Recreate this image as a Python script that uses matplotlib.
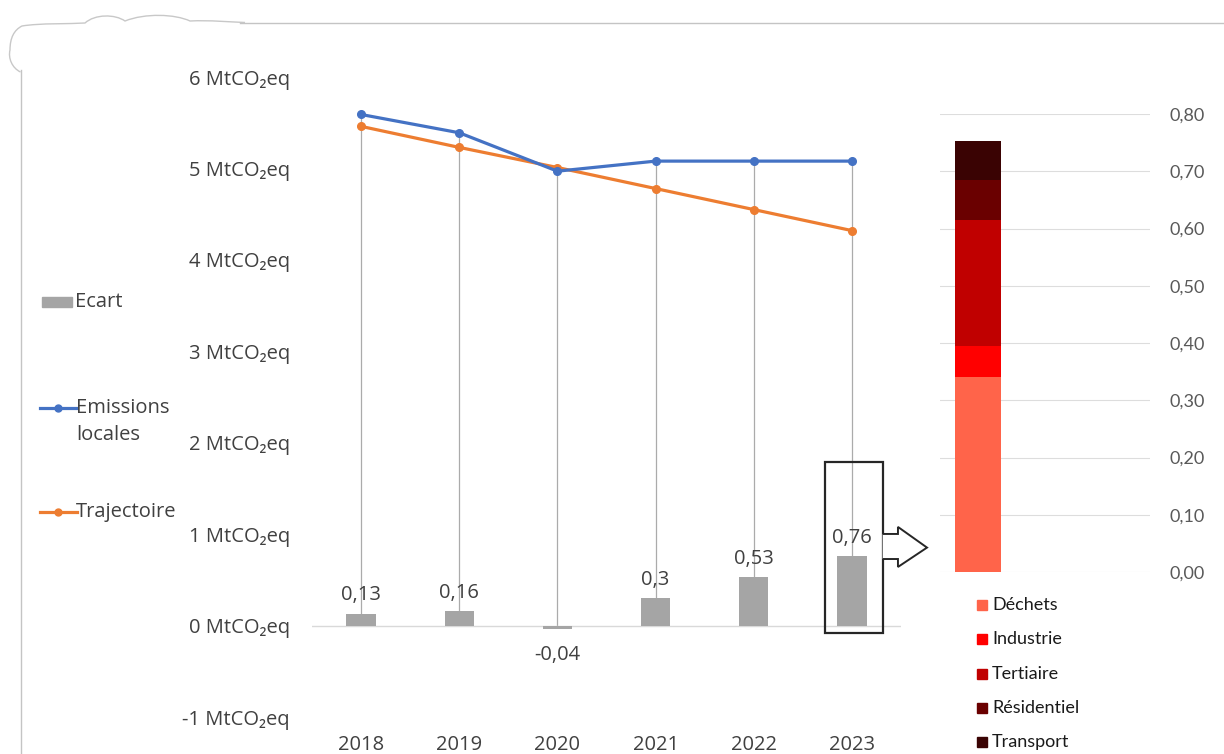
import matplotlib
matplotlib.use("Agg")
import matplotlib.pyplot as plt
from matplotlib.patches import Rectangle, Polygon, PathPatch
from matplotlib.path import Path
from matplotlib.lines import Line2D

# ---- data -------------------------------------------------------------
years = ["2018", "2019", "2020", "2021", "2022", "2023"]
emissions = [5.59, 5.39, 4.97, 5.08, 5.08, 5.08]      # Emissions locales
trajectoire = [5.46, 5.23, 5.01, 4.78, 4.55, 4.32]    # Trajectoire
ecart = [0.13, 0.16, -0.04, 0.30, 0.53, 0.76]         # Ecart
ecart_labels = ["0,13", "0,16", "-0,04", "0,3", "0,53", "0,76"]
y_ticks = [-1, 0, 1, 2, 3, 4, 5, 6]

sectors = ["Déchets", "Industrie", "Tertiaire", "Résidentiel", "Transport"]
sector_values = [0.34, 0.055, 0.22, 0.07, 0.067]
sector_colors = ["#FF644A", "#FF0000", "#C00000", "#6A0000", "#3A0303"]
right_ticks = [0.0, 0.1, 0.2, 0.3, 0.4, 0.5, 0.6, 0.7, 0.8]

# ---- style ------------------------------------------------------------
MAIN_FONT = ["Open Sans", "DejaVu Sans"]
SIDE_FONT = ["Lato", "DejaVu Sans"]
FS = 14.5
TXT = "#404040"
BLUE = "#4472C4"
ORANGE = "#ED7D31"
GREY = "#A5A5A5"

W, H = 1224, 754
fig = plt.figure(figsize=(W / 100, H / 100), dpi=100)
fig.patch.set_facecolor("white")


def fx(px):
    return px / W


def fy(py):
    return 1 - py / H


# ---- background frame --------------------------------------------------
bg = fig.add_axes([0, 0, 1, 1], zorder=-5)
bg.set_xlim(0, W)
bg.set_ylim(H, 0)
bg.axis("off")
bg.plot([240, W], [22.5, 22.5], color="#c4c4c4", lw=1)
bg.plot([20.5, 20.5], [70, H], color="#c4c4c4", lw=1)
blob = Path(
    [(20.5, 72), (12, 68), (8, 58), (10, 50),
     (10, 38), (14, 30), (22, 26),
     (40, 23), (70, 24), (85, 23),
     (95, 14), (115, 14), (125, 21),
     (145, 13), (175, 14), (190, 21),
     (210, 20), (230, 22), (245, 22.5)],
    [Path.MOVETO] + [Path.CURVE4] * 18,
)
bg.add_patch(PathPatch(blob, facecolor="white", edgecolor="#c8c8c8", lw=1))

# ---- main chart --------------------------------------------------------
ax = fig.add_axes([fx(312), fy(717), fx(901) - fx(312), fy(77) - fy(717)])
x = list(range(len(years)))

ax.set_xlim(-0.5, len(years) - 0.5)
ax.set_ylim(-1, 6)
for s in ax.spines.values():
    s.set_visible(False)

# drop lines from the highest point of each year to the axis
tops = [max(e, t) for e, t in zip(emissions, trajectoire)]
ax.vlines(x, 0, tops, color="#ABABAB", lw=0.9, zorder=1)
ax.axhline(0, color="#D9D9D9", lw=1, zorder=1.5)

ax.bar(x, ecart, width=0.3, color=GREY, zorder=2)
ax.plot(x, emissions, color=BLUE, lw=2.3, marker="o", ms=5.5, zorder=4)
ax.plot(x, trajectoire, color=ORANGE, lw=2.3, marker="o", ms=5.5, zorder=3)

for xi, v, lab in zip(x, ecart, ecart_labels):
    if v >= 0:
        ax.annotate(lab, (xi, v), xytext=(0, 6), textcoords="offset points",
                    ha="center", va="bottom", fontsize=FS, color=TXT,
                    family=MAIN_FONT, zorder=5)
    else:
        ax.annotate(lab, (xi, v), xytext=(0, -11), textcoords="offset points",
                    ha="center", va="top", fontsize=FS, color=TXT,
                    family=MAIN_FONT, zorder=5)

ax.set_xticks(x)
ax.set_xticklabels(years)
ax.set_yticks(y_ticks)
ax.set_yticklabels([f"{v} MtCO\u2082eq" for v in y_ticks])
ax.tick_params(axis="both", length=0, colors=TXT, labelsize=FS)
ax.tick_params(axis="y", pad=16)
ax.tick_params(axis="x", pad=13)
for t in ax.get_xticklabels() + ax.get_yticklabels():
    t.set_family(MAIN_FONT)

# highlight box around the last year and block arrow towards the breakdown
last = len(years) - 1
ax.add_patch(Rectangle((last - 0.274, -0.084), 0.587, 1.878, fill=False,
                       edgecolor="#262626", lw=1.6, zorder=6, clip_on=False))
arrow = [(last + 0.313, 1.002), (last + 0.469, 1.002), (last + 0.469, 1.079),
         (last + 0.765, 0.853), (last + 0.469, 0.641), (last + 0.469, 0.728),
         (last + 0.313, 0.728)]
ax.add_patch(Polygon(arrow, closed=False, facecolor="white",
                     edgecolor="#262626", lw=1.4, zorder=6, clip_on=False))

# ---- left legend -------------------------------------------------------
bg.add_patch(Rectangle((42, 297), 30, 10, color=GREY))
bg.text(75, 302, "Ecart", va="center", ha="left", fontsize=FS,
        color=TXT, family=MAIN_FONT)
bg.add_line(Line2D([40, 58, 77], [408, 408, 408], color=BLUE, lw=2.3,
                   marker="o", ms=5, markevery=[1]))
bg.text(76, 408, "Emissions", va="center", ha="left", fontsize=FS,
        color=TXT, family=MAIN_FONT)
bg.text(76, 435, "locales", va="center", ha="left", fontsize=FS,
        color=TXT, family=MAIN_FONT)
bg.add_line(Line2D([40, 58, 77], [512, 512, 512], color=ORANGE, lw=2.3,
                   marker="o", ms=5, markevery=[1]))
bg.text(76, 512, "Trajectoire", va="center", ha="left", fontsize=FS,
        color=TXT, family=MAIN_FONT)

# ---- breakdown of the last gap ------------------------------------------
ax2 = fig.add_axes([fx(940), fy(572), fx(1150) - fx(940), fy(114) - fy(572)])
ax2.set_xlim(0, 1)
ax2.set_ylim(0, 0.8)
for s in ax2.spines.values():
    s.set_visible(False)
ax2.set_yticks(right_ticks)
ax2.set_yticklabels([f"{v:.2f}".replace(".", ",") for v in right_ticks])
ax2.yaxis.tick_right()
ax2.tick_params(axis="y", length=0, colors="#595959", labelsize=13, pad=14)
for t in ax2.get_yticklabels():
    t.set_family(SIDE_FONT)
ax2.set_xticks([])
ax2.grid(axis="y", color="#DDDDDD", lw=0.8)
ax2.set_axisbelow(True)

bottom = 0.0
for val, col in zip(sector_values, sector_colors):
    ax2.bar(0.181, val, width=0.219, bottom=bottom, color=col, zorder=3)
    bottom += val

for i, (name, col) in enumerate(zip(sectors, sector_colors)):
    yc = 605 + i * 34.3
    bg.add_patch(Rectangle((977, yc - 5), 10, 10, color=col))
    bg.text(992, yc, name, va="center", ha="left", fontsize=13,
            color="#1a1a1a", family=SIDE_FONT)

fig.savefig("out.png", dpi=100, facecolor="white")
